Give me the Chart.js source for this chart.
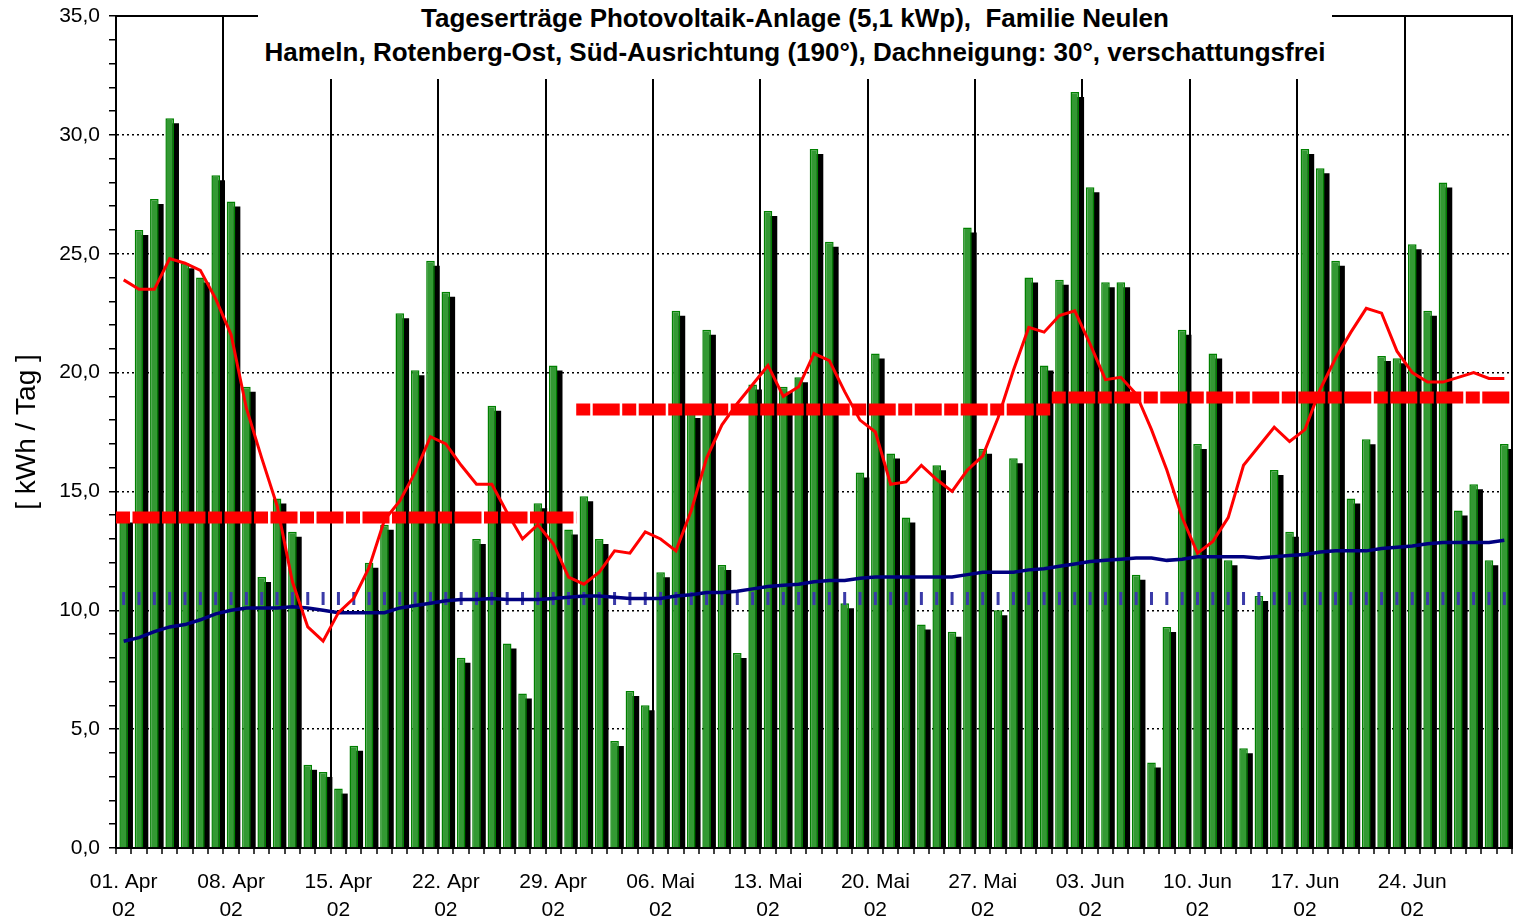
<!DOCTYPE html>
<html>
<head>
<meta charset="utf-8">
<script src="https://cdn.jsdelivr.net/npm/chart.js@4/dist/chart.umd.min.js"></script>
<style>
  html, body { margin: 0; padding: 0; background: #fff; }
  #wrap { position: relative; width: 1514px; height: 923px; }
  #chart { display: block; }
  #titel {
    position: absolute; left: 258px; top: 0; width: 1074px; height: 79px;
    background: #fff; color: #000; text-align: center; white-space: nowrap;
    font: bold 26px 'Liberation Sans', Arial, sans-serif; line-height: 34px;
    padding-top: 1px; box-sizing: border-box; z-index: 2;
  }
</style>
</head>
<body>
<div id="wrap">
  <canvas id="chart" width="1514" height="923"></canvas>
  <div id="titel">Tageserträge Photovoltaik-Anlage (5,1 kWp),&nbsp; Familie Neulen<br>Hameln, Rotenberg-Ost, Süd-Ausrichtung (190°), Dachneigung: 30°, verschattungsfrei</div>
</div>
<script>
// Monate im Diagramm (2002)
const monate = ['Apr', 'Mai', 'Jun'];
const monatsTage = [30, 31, 30];
const jahr = '02';

// Tagesertrag in kWh/Tag, 01.04. - 30.06.
const ertrag = [
  13.9, 26.0, 27.3, 30.7, 24.6, 24.0, 28.3, 27.2, 19.4, 11.4,
  14.7, 13.3, 3.5, 3.2, 2.5, 4.3, 12.0, 13.6, 22.5, 20.1,
  24.7, 23.4, 8.0, 13.0, 18.6, 8.6, 6.5, 14.5, 20.3, 13.4,
  14.8, 13.0, 4.5, 6.6, 6.0, 11.6, 22.6, 18.3, 21.8, 11.9,
  8.2, 19.5, 26.8, 19.4, 19.8, 29.4, 25.5, 10.3, 15.8, 20.8,
  16.6, 13.9, 9.4, 16.1, 9.1, 26.1, 16.8, 10.0, 16.4, 24.0, 20.3,
  23.9, 31.8, 27.8, 23.8, 23.8, 11.5, 3.6, 9.3, 21.8, 17.0,
  20.8, 12.1, 4.2, 10.6, 15.9, 13.3, 29.4, 28.6, 24.7, 14.7,
  17.2, 20.7, 20.6, 25.4, 22.6, 28.0, 14.2, 15.3, 12.1, 17.0
];

// gleitender Mittelwert (rot)
const gleitMittel = [
  23.9, 23.5, 23.5, 24.8, 24.6, 24.3, 23.1, 21.6, 18.5, 16.4,
  14.4, 11.2, 9.3, 8.7, 9.9, 10.5, 11.8, 13.8, 14.6, 15.8,
  17.3, 17.0, 16.1, 15.3, 15.3, 14.1, 13.0, 13.6, 12.8, 11.4,
  11.1, 11.6, 12.5, 12.4, 13.3, 13.0, 12.5, 14.2, 16.4, 17.8,
  18.7, 19.5, 20.3, 19.0, 19.4, 20.8, 20.5, 19.2, 18.0, 17.5,
  15.3, 15.4, 16.1, 15.5, 15.0, 15.9, 16.5, 18.1, 20.1, 21.9,
  21.7, 22.4, 22.6, 21.2, 19.7, 19.8, 19.1, 17.6, 15.9, 13.9,
  12.4, 12.9, 13.9, 16.1, 16.9, 17.7, 17.1, 17.6, 19.3, 20.6,
  21.7, 22.7, 22.5, 20.9, 20.0, 19.6, 19.6, 19.8, 20.0, 19.75, 19.75
];

// kumulierter Mittelwert (dunkelblau)
const kumulMittel = [
  8.7, 8.85, 9.1, 9.3, 9.4, 9.6, 9.85, 10.0, 10.1, 10.1,
  10.1, 10.15, 10.1, 10.0, 9.9, 9.9, 9.9, 9.9, 10.1, 10.2,
  10.3, 10.4, 10.45, 10.45, 10.5, 10.45, 10.45, 10.45, 10.5, 10.55,
  10.6, 10.6, 10.55, 10.5, 10.5, 10.5, 10.6, 10.65, 10.75, 10.75,
  10.8, 10.9, 11.0, 11.05, 11.1, 11.2, 11.25, 11.25, 11.35, 11.4,
  11.4, 11.4, 11.4, 11.4, 11.4, 11.5, 11.6, 11.6, 11.6, 11.7,
  11.75, 11.85, 11.95, 12.05, 12.1, 12.15, 12.2, 12.2, 12.1, 12.15,
  12.25, 12.25, 12.25, 12.25, 12.2, 12.25, 12.3, 12.35, 12.45, 12.5,
  12.5, 12.5, 12.6, 12.65, 12.7, 12.8, 12.85, 12.85, 12.85, 12.85, 12.95
];

// Monatsmittel (rot gestrichelt) und Vergleichswert (blaue Striche)
const monatsMittel = [13.9, 18.45, 18.95];
const vergleichswert = 10.5;

// Beschriftung: jede Woche ein Label
const tage = [];
monate.forEach((m, mi) => {
  for (let d = 1; d <= monatsTage[mi]; d++) tage.push({ d: d, m: m });
});
const labels = tage.map((t, i) => i % 7 === 0 ? [String(t.d).padStart(2, '0') + '. ' + t.m, jahr] : '');
const vergleich = tage.map(() => vergleichswert);

// Monatslinien von Monatsanfang bis Monatsende (in Tagen)
const monatsLinien = [];
let start = 0;
monatsMittel.forEach((wert, mi) => {
  monatsLinien.push([{ x: start, y: wert }, { x: start + monatsTage[mi], y: wert }]);
  start += monatsTage[mi];
});

Chart.defaults.font.family = "'Liberation Sans', Arial, sans-serif";
Chart.defaults.color = '#000';

// Schatten-Balken um ein paar Pixel versetzt zeichnen
const schattenPlugin = {
  id: 'schatten',
  beforeDatasetDraw(chart, args) {
    if (chart.data.datasets[args.index].schatten) {
      chart.ctx.save();
      chart.ctx.translate(5, 5);
    }
  },
  afterDatasetDraw(chart, args) {
    if (chart.data.datasets[args.index].schatten) chart.ctx.restore();
  }
};

// oberer und rechter Rahmen der Zeichenfläche
const rahmenPlugin = {
  id: 'rahmen',
  afterDatasetsDraw(chart) {
    const { ctx, chartArea } = chart;
    ctx.save();
    ctx.strokeStyle = '#000';
    ctx.lineWidth = 2;
    ctx.beginPath();
    ctx.moveTo(chartArea.left, chartArea.top);
    ctx.lineTo(chartArea.right, chartArea.top);
    ctx.lineTo(chartArea.right, chartArea.bottom);
    ctx.stroke();
    ctx.restore();
  }
};

const datasets = [
  {
    type: 'bar', data: ertrag, schatten: true,
    backgroundColor: '#000', borderWidth: 0,
    grouped: false, barPercentage: 0.56, categoryPercentage: 1,
    clip: { left: 0, top: 0, right: -5, bottom: -5 }, order: 20
  },
  {
    type: 'bar', data: ertrag,
    backgroundColor: '#339933', borderColor: '#008000', borderWidth: 1.5,
    grouped: false, barPercentage: 0.56, categoryPercentage: 1, order: 19
  },
  {
    type: 'line', data: vergleich, showLine: false,
    pointStyle: 'line', rotation: 90, pointRadius: 6.5, pointHoverRadius: 6.5,
    borderColor: '#3a3aa8', pointBorderWidth: 3, borderWidth: 3, order: 5
  },
  {
    type: 'line', data: kumulMittel, borderColor: '#000080', borderWidth: 3.5,
    pointRadius: 0, tension: 0, fill: false, order: 4
  },
  {
    type: 'line', data: gleitMittel, borderColor: '#ff0000', borderWidth: 3,
    pointRadius: 0, tension: 0, fill: false, order: 3
  }
];
monatsLinien.forEach(linie => {
  datasets.push({
    type: 'line', data: linie, xAxisID: 'xd',
    borderColor: '#ff0000', borderWidth: 12, borderDash: [14, 2.5, 27, 2.5],
    borderCapStyle: 'butt', pointRadius: 0, fill: false, order: 2
  });
});

new Chart(document.getElementById('chart'), {
  data: { labels: labels, datasets: datasets },
  options: {
    responsive: false,
    animation: false,
    devicePixelRatio: 1,
    layout: { autoPadding: false, padding: { top: 16, right: 2, left: 0, bottom: 0 } },
    plugins: { legend: { display: false }, tooltip: { enabled: false }, title: { display: false } },
    scales: {
      x: {
        type: 'category',
        offset: true,
        afterFit: s => { s.height = 75; s.paddingLeft = 0; s.paddingRight = 0; },
        grid: {
          offset: true,
          color: c => c.index % 7 === 0 ? '#000' : 'rgba(0,0,0,0)',
          lineWidth: 2,
          tickColor: '#000',
          tickWidth: 1.5,
          tickLength: 6
        },
        border: { color: '#000', width: 2 },
        ticks: {
          autoSkip: false, maxRotation: 0, minRotation: 0,
          padding: 14,
          font: { size: 21, lineHeight: 1.33 }
        }
      },
      xd: { type: 'linear', min: 0, max: 91, display: false },
      y: {
        min: 0, max: 35,
        afterFit: s => { s.width = 116; s.paddingTop = 0; s.paddingBottom = 0; },
        ticks: {
          stepSize: 1, autoSkip: false, padding: 9,
          font: { size: 21 },
          callback: v => v % 5 === 0 ? v.toFixed(1).replace('.', ',') : ''
        },
        grid: {
          color: c => (c.tick && c.tick.value % 5 === 0 && c.tick.value > 0 && c.tick.value < 35) ? '#000' : 'rgba(0,0,0,0)',
          lineWidth: 1.5,
          tickColor: '#000',
          tickWidth: 1.5,
          tickLength: 7
        },
        border: { color: '#000', width: 2, dash: [2, 3] },
        title: {
          display: true, text: '[ kWh / Tag ]',
          font: { size: 28 }, padding: { top: 10, bottom: 0 }
        }
      }
    }
  },
  plugins: [schattenPlugin, rahmenPlugin]
});
</script>
</body>
</html>
